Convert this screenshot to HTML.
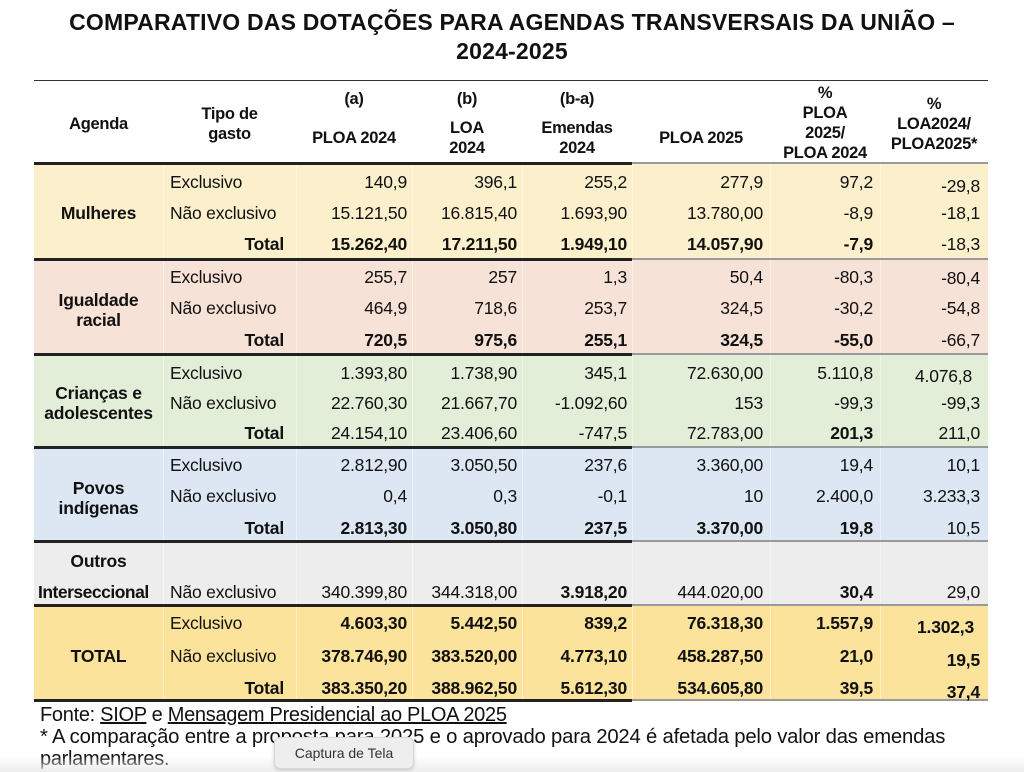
<!DOCTYPE html>
<html><head><meta charset="utf-8"><style>
body{margin:0;width:1024px;height:772px;background:#fff;position:relative;overflow:hidden;font-family:"Liberation Sans",Arial,sans-serif;color:#111}
.t{position:absolute;left:0;width:1024px;text-align:center;font-weight:bold;font-size:23px;letter-spacing:0.2px}
.b{position:absolute;left:34px;width:954px}
.x{position:absolute;font-size:17.5px;white-space:nowrap;letter-spacing:-0.2px;line-height:20px}
.c0{left:34px;width:129px;text-align:center}
.c1{left:170px;width:120px}
.c1r{left:170px;width:114px;text-align:right}
.c2{left:296px;width:111px;text-align:right}
.c3{left:412px;width:105px;text-align:right}
.c4{left:522px;width:105px;text-align:right}
.c5{left:632px;width:131px;text-align:right}
.c6{left:770px;width:103px;text-align:right}
.c7{left:880px;width:100px;text-align:right}
.bd{font-weight:bold}
.h{position:absolute;font-size:16.5px;font-weight:bold;text-align:center;line-height:20px;letter-spacing:-0.3px}
.ln{position:absolute;left:34px;height:3px;width:598px;background:#222}
.ln2{position:absolute;left:632px;height:2px;width:356px;background:#999}
.v{position:absolute;top:163px;height:537px;width:1px;background:rgba(255,255,255,.45)}
</style></head><body>
<div class="t" style="top:9px">COMPARATIVO DAS DOTAÇÕES PARA AGENDAS TRANSVERSAIS DA UNIÃO –</div>
<div class="t" style="top:38px">2024-2025</div>
<div class="b" style="top:80px;height:1px;background:#333"></div>
<div class="b" style="top:163px;height:96px;background:#fbf0cb"></div>
<div class="b" style="top:259px;height:95px;background:#f7e2d7"></div>
<div class="b" style="top:354px;height:93px;background:#e3eed9"></div>
<div class="b" style="top:447px;height:94px;background:#dce7f3"></div>
<div class="b" style="top:541px;height:64px;background:#ededed"></div>
<div class="b" style="top:605px;height:95px;background:#fbe39b"></div>
<div class="v" style="left:163px"></div><div class="v" style="left:296px"></div><div class="v" style="left:412px"></div><div class="v" style="left:522px"></div><div class="v" style="left:632px"></div><div class="v" style="left:770px"></div><div class="v" style="left:880px"></div>
<div class="ln" style="top:162px"></div><div class="ln2" style="top:162px"></div>
<div class="ln" style="top:258px"></div><div class="ln2" style="top:258px"></div>
<div class="ln" style="top:353px"></div><div class="ln2" style="top:353px"></div>
<div class="ln" style="top:446px"></div><div class="ln2" style="top:446px"></div>
<div class="ln" style="top:540px"></div><div class="ln2" style="top:540px"></div>
<div class="ln" style="top:604px"></div><div class="ln2" style="top:604px"></div>
<div class="ln" style="top:699px"></div><div class="ln2" style="top:699px"></div>

<div class="h" style="left:34px;width:129px;top:114px">Agenda</div>
<div class="h" style="left:163px;width:133px;top:104px">Tipo de<br>gasto</div>
<div class="h" style="left:296px;width:116px;top:89px">(a)</div>
<div class="h" style="left:296px;width:116px;top:128px">PLOA 2024</div>
<div class="h" style="left:412px;width:110px;top:89px">(b)</div>
<div class="h" style="left:412px;width:110px;top:118px">LOA<br>2024</div>
<div class="h" style="left:522px;width:110px;top:89px">(b-a)</div>
<div class="h" style="left:522px;width:110px;top:118px">Emendas<br>2024</div>
<div class="h" style="left:632px;width:138px;top:128px">PLOA 2025</div>
<div class="h" style="left:770px;width:110px;top:83px">%<br>PLOA<br>2025/<br>PLOA 2024</div>
<div class="h" style="left:880px;width:108px;top:94px">%<br>LOA2024/<br>PLOA2025*</div>

<!-- Mulheres -->
<div class="x c0 bd" style="top:203px">Mulheres</div>
<div class="x c1" style="top:172px">Exclusivo</div><div class="x c2" style="top:172px">140,9</div><div class="x c3" style="top:172px">396,1</div><div class="x c4" style="top:172px">255,2</div><div class="x c5" style="top:172px">277,9</div><div class="x c6" style="top:172px">97,2</div><div class="x c7" style="top:176px">-29,8</div>
<div class="x c1" style="top:203px">Não exclusivo</div><div class="x c2" style="top:203px">15.121,50</div><div class="x c3" style="top:203px">16.815,40</div><div class="x c4" style="top:203px">1.693,90</div><div class="x c5" style="top:203px">13.780,00</div><div class="x c6" style="top:203px">-8,9</div><div class="x c7" style="top:203px">-18,1</div>
<div class="x c1r bd" style="top:234px">Total</div><div class="x c2 bd" style="top:234px">15.262,40</div><div class="x c3 bd" style="top:234px">17.211,50</div><div class="x c4 bd" style="top:234px">1.949,10</div><div class="x c5 bd" style="top:234px">14.057,90</div><div class="x c6 bd" style="top:234px">-7,9</div><div class="x c7" style="top:234px">-18,3</div>
<!-- Igualdade -->
<div class="x c0 bd" style="top:290px">Igualdade<br>racial</div>
<div class="x c1" style="top:267px">Exclusivo</div><div class="x c2" style="top:267px">255,7</div><div class="x c3" style="top:267px">257</div><div class="x c4" style="top:267px">1,3</div><div class="x c5" style="top:267px">50,4</div><div class="x c6" style="top:267px">-80,3</div><div class="x c7" style="top:268px">-80,4</div>
<div class="x c1" style="top:298px">Não exclusivo</div><div class="x c2" style="top:298px">464,9</div><div class="x c3" style="top:298px">718,6</div><div class="x c4" style="top:298px">253,7</div><div class="x c5" style="top:298px">324,5</div><div class="x c6" style="top:298px">-30,2</div><div class="x c7" style="top:298px">-54,8</div>
<div class="x c1r bd" style="top:330px">Total</div><div class="x c2 bd" style="top:330px">720,5</div><div class="x c3 bd" style="top:330px">975,6</div><div class="x c4 bd" style="top:330px">255,1</div><div class="x c5 bd" style="top:330px">324,5</div><div class="x c6 bd" style="top:330px">-55,0</div><div class="x c7" style="top:330px">-66,7</div>
<!-- Crianças -->
<div class="x c0 bd" style="top:383px">Crianças e<br>adolescentes</div>
<div class="x c1" style="top:363px">Exclusivo</div><div class="x c2" style="top:363px">1.393,80</div><div class="x c3" style="top:363px">1.738,90</div><div class="x c4" style="top:363px">345,1</div><div class="x c5" style="top:363px">72.630,00</div><div class="x c6" style="top:363px">5.110,8</div><div class="x c7" style="top:366px;width:92px">4.076,8</div>
<div class="x c1" style="top:393px">Não exclusivo</div><div class="x c2" style="top:393px">22.760,30</div><div class="x c3" style="top:393px">21.667,70</div><div class="x c4" style="top:393px">-1.092,60</div><div class="x c5" style="top:393px">153</div><div class="x c6" style="top:393px">-99,3</div><div class="x c7" style="top:393px">-99,3</div>
<div class="x c1r bd" style="top:423px">Total</div><div class="x c2" style="top:423px">24.154,10</div><div class="x c3" style="top:423px">23.406,60</div><div class="x c4" style="top:423px">-747,5</div><div class="x c5" style="top:423px">72.783,00</div><div class="x c6 bd" style="top:423px">201,3</div><div class="x c7" style="top:423px">211,0</div>
<!-- Povos -->
<div class="x c0 bd" style="top:478px">Povos<br>indígenas</div>
<div class="x c1" style="top:455px">Exclusivo</div><div class="x c2" style="top:455px">2.812,90</div><div class="x c3" style="top:455px">3.050,50</div><div class="x c4" style="top:455px">237,6</div><div class="x c5" style="top:455px">3.360,00</div><div class="x c6" style="top:455px">19,4</div><div class="x c7" style="top:455px">10,1</div>
<div class="x c1" style="top:486px">Não exclusivo</div><div class="x c2" style="top:486px">0,4</div><div class="x c3" style="top:486px">0,3</div><div class="x c4" style="top:486px">-0,1</div><div class="x c5" style="top:486px">10</div><div class="x c6" style="top:486px">2.400,0</div><div class="x c7" style="top:486px">3.233,3</div>
<div class="x c1r bd" style="top:518px">Total</div><div class="x c2 bd" style="top:518px">2.813,30</div><div class="x c3 bd" style="top:518px">3.050,80</div><div class="x c4 bd" style="top:518px">237,5</div><div class="x c5 bd" style="top:518px">3.370,00</div><div class="x c6 bd" style="top:518px">19,8</div><div class="x c7" style="top:518px">10,5</div>
<!-- Outros -->
<div class="x c0 bd" style="top:551px">Outros</div>
<div class="x bd" style="left:38px;top:582px;letter-spacing:-0.5px">Interseccional</div>
<div class="x c1" style="top:582px">Não exclusivo</div><div class="x c2" style="top:582px">340.399,80</div><div class="x c3" style="top:582px">344.318,00</div><div class="x c4 bd" style="top:582px">3.918,20</div><div class="x c5" style="top:582px">444.020,00</div><div class="x c6 bd" style="top:582px">30,4</div><div class="x c7" style="top:582px">29,0</div>
<!-- TOTAL -->
<div class="x c0 bd" style="top:646px">TOTAL</div>
<div class="x c1" style="top:613px">Exclusivo</div><div class="x c2 bd" style="top:613px">4.603,30</div><div class="x c3 bd" style="top:613px">5.442,50</div><div class="x c4 bd" style="top:613px">839,2</div><div class="x c5 bd" style="top:613px">76.318,30</div><div class="x c6 bd" style="top:613px">1.557,9</div><div class="x c7 bd" style="top:617px;width:94px">1.302,3</div>
<div class="x c1" style="top:646px">Não exclusivo</div><div class="x c2 bd" style="top:646px">378.746,90</div><div class="x c3 bd" style="top:646px">383.520,00</div><div class="x c4 bd" style="top:646px">4.773,10</div><div class="x c5 bd" style="top:646px">458.287,50</div><div class="x c6 bd" style="top:646px">21,0</div><div class="x c7 bd" style="top:650px">19,5</div>
<div class="x c1r bd" style="top:678px">Total</div><div class="x c2 bd" style="top:678px">383.350,20</div><div class="x c3 bd" style="top:678px">388.962,50</div><div class="x c4 bd" style="top:678px">5.612,30</div><div class="x c5 bd" style="top:678px">534.605,80</div><div class="x c6 bd" style="top:678px">39,5</div><div class="x c7 bd" style="top:682px">37,4</div>

<div class="x" style="left:40px;top:705px;font-size:20px;letter-spacing:-0.3px">Fonte: <u>SIOP</u> e <u>Mensagem Presidencial ao PLOA 2025</u></div>
<div class="x" style="left:40px;top:727px;font-size:20.3px;letter-spacing:-0.2px">* A comparação entre a proposta para 2025 e o aprovado para 2024 é afetada pelo valor das emendas</div>
<div class="x" style="left:40px;top:749px;font-size:20px;letter-spacing:-0.3px">parlamentares.</div>
<div style="position:absolute;left:0;top:756px;width:1024px;height:16px;background:linear-gradient(rgba(240,240,240,0),rgba(235,235,235,.9))"></div>
<div style="position:absolute;left:274px;top:737px;width:138px;height:30px;background:#eee;border:1px solid #d8d8d8;border-radius:6px;box-shadow:0 1px 3px rgba(0,0,0,.2);font-size:14px;color:#333;text-align:center;line-height:30px">Captura de Tela</div>
</body></html>
